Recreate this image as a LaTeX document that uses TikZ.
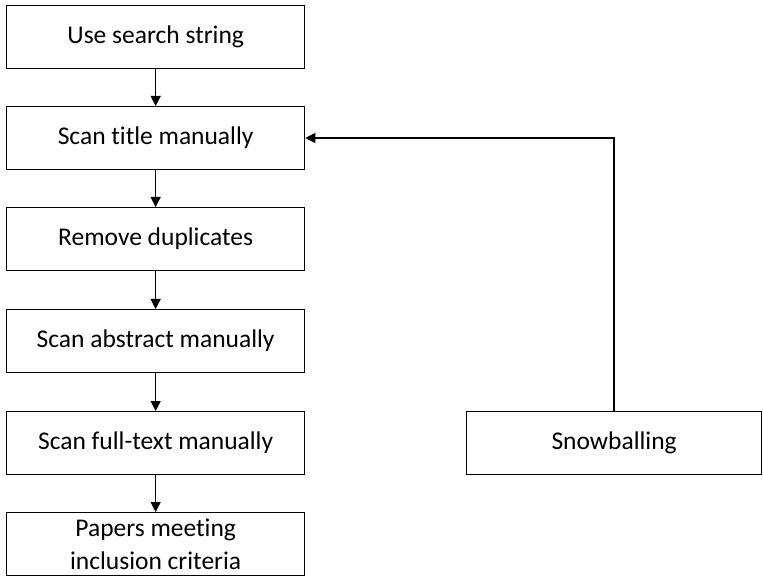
\documentclass[tikz,border=0pt]{standalone}
\usepackage{fontspec}
\setmainfont[Ligatures=NoCommon]{Carlito}
\usetikzlibrary{arrows.meta}
\begin{document}
\begin{tikzpicture}[x=1pt,y=-1pt,
  stepbox/.style={draw=black, line width=1.3pt, rectangle, minimum width=298pt,
    minimum height=63pt, inner sep=0pt, align=center, anchor=north west,
    font=\fontsize{25.5}{33}\selectfont},
  flow/.style={draw=black, line width=1.1pt, -{Triangle[length=10pt,width=10pt]}}]
\useasboundingbox (0,0) rectangle (763,577);
\node[stepbox] (search) at (6,5) {Use search string};
\node[stepbox] (title) at (6,106) {Scan title manually};
\node[stepbox] (dup) at (6,207) {Remove duplicates};
\node[stepbox] (abstract) at (6,309) {Scan abstract manually};
\node[stepbox] (full) at (6,411) {Scan full-text manually};
\node[stepbox] (papers) at (6,512) {Papers meeting\\inclusion criteria};
\node[stepbox, minimum width=295pt] (snow) at (466,411) {Snowballing};
\draw[flow] (search.south) -- (title.north);
\draw[flow] (title.south) -- (dup.north);
\draw[flow] (dup.south) -- (abstract.north);
\draw[flow] (abstract.south) -- (full.north);
\draw[flow] (full.south) -- (papers.north);
\coordinate (bend) at (614,138);
\draw[flow] (snow.north -| bend) -- (bend) -- (title.east |- bend);
\end{tikzpicture}
\end{document}
